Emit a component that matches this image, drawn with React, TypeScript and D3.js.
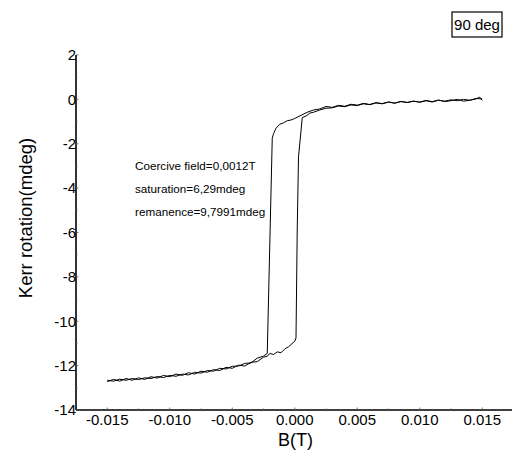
import React from "react";
import * as d3 from "d3";

// Descending branch (field swept from +0.015 T to -0.015 T): [B (T), Kerr rotation (mdeg)]
const descB = [
  0.015, 0.0148, 0.0145, 0.014, 0.0135, 0.013, 0.0125, 0.012, 0.0115, 0.011, 0.0105, 0.01,
  0.0095, 0.009, 0.0085, 0.008, 0.0075, 0.007, 0.0065, 0.006, 0.0055, 0.005, 0.0045, 0.004,
  0.0035, 0.003, 0.0025, 0.002, 0.0015, 0.001, 0.0005, 0.0, -0.0003, -0.0006, -0.0009, -0.0012,
  -0.0015, -0.0017, -0.0018, -0.0022, -0.0025, -0.003, -0.0035, -0.004, -0.0045, -0.005,
  -0.0055, -0.006, -0.0065, -0.007, -0.0075, -0.008, -0.0085, -0.009, -0.0095, -0.01,
  -0.0105, -0.011, -0.0115, -0.012, -0.0125, -0.013, -0.0135, -0.014, -0.0145, -0.015,
];
const descKerr = [
  -0.05, 0.1, 0.02, -0.04, -0.08, 0.0, -0.06, -0.1, -0.03, -0.12, -0.06, -0.13,
  -0.08, -0.14, -0.1, -0.17, -0.12, -0.19, -0.15, -0.23, -0.18, -0.26, -0.22, -0.31,
  -0.27, -0.36, -0.32, -0.43, -0.48, -0.58, -0.72, -0.86, -0.93, -0.96, -1.06, -1.12,
  -1.3, -1.55, -1.75, -11.45, -11.57, -11.66, -11.88, -11.9, -12.02, -12.03,
  -12.15, -12.12, -12.25, -12.22, -12.34, -12.3, -12.42, -12.38, -12.48, -12.44,
  -12.54, -12.49, -12.58, -12.55, -12.63, -12.58, -12.66, -12.61, -12.7, -12.66,
];

// Ascending branch (field swept from -0.015 T back to +0.015 T)
const ascB = [
  -0.015, -0.0145, -0.014, -0.0135, -0.013, -0.0125, -0.012, -0.0115, -0.011, -0.0105, -0.01,
  -0.0095, -0.009, -0.0085, -0.008, -0.0075, -0.007, -0.0065, -0.006, -0.0055, -0.005,
  -0.0045, -0.004, -0.0035, -0.003, -0.0025, -0.0022, -0.002, -0.0017, -0.0014, -0.0011,
  -0.0008, -0.0005, -0.0003, 0.0, 0.0001, 0.0002, 0.0003, 0.0006, 0.0009, 0.0012, 0.0015,
  0.002, 0.0025, 0.003, 0.0035, 0.004, 0.0045, 0.005, 0.0055, 0.006, 0.0065, 0.007, 0.0075,
  0.008, 0.0085, 0.009, 0.0095, 0.01, 0.0105, 0.011, 0.0115, 0.012, 0.0125, 0.013, 0.0135,
  0.014, 0.0145, 0.015,
];
const ascKerr = [
  -12.72, -12.62, -12.7, -12.58, -12.66, -12.55, -12.62, -12.5, -12.56, -12.44, -12.5,
  -12.38, -12.44, -12.32, -12.38, -12.25, -12.3, -12.18, -12.22, -12.08, -12.12,
  -11.98, -12.02, -11.85, -11.82, -11.62, -11.58, -11.45, -11.5, -11.38, -11.42,
  -11.25, -11.15, -11.05, -10.9, -10.75, -5.8, -2.6, -0.82, -0.75, -0.62, -0.58,
  -0.48, -0.4, -0.38, -0.3, -0.33, -0.25, -0.28, -0.2, -0.24, -0.16, -0.2, -0.12,
  -0.17, -0.09, -0.14, -0.08, -0.12, -0.05, -0.1, -0.04, -0.08, -0.02, -0.06, 0.0,
  -0.04, 0.04, 0.02,
];

const xTicks = [-0.015, -0.01, -0.005, 0, 0.005, 0.01, 0.015];
const xMinor = [-0.0125, -0.0075, -0.0025, 0.0025, 0.0075, 0.0125];
const yTicks = [2, 0, -2, -4, -6, -8, -10, -12, -14];
const yMinor = [1, -1, -3, -5, -7, -9, -11, -13];
const annotations = ["Coercive field=0,0012T", "saturation=6,29mdeg", "remanence=9,7991mdeg"];
const angleLabel = "90 deg";

const W = 512;
const H = 450;
const left = 76;
const right = 513.5;
const top = 55;
const bottom = 410;
const FONT = "'Liberation Sans', Arial, sans-serif";

export default function App() {
  const x = d3.scaleLinear().domain([-0.0175, 0.0175]).range([left, right]);
  const y = d3.scaleLinear().domain([-14, 2]).range([bottom, top]);
  const line = d3
    .line<[number, number]>()
    .x((d) => x(d[0]))
    .y((d) => y(d[1]));
  const desc = descB.map((b, i) => [b, descKerr[i]] as [number, number]);
  const asc = ascB.map((b, i) => [b, ascKerr[i]] as [number, number]);

  const fmtX = (v: number) => (v < 0 ? "-" : "") + Math.abs(v).toFixed(3);

  return (
    <svg
      width={W}
      height={H}
      style={{ position: "absolute", left: 0, top: 0, background: "#fff" }}
      fontFamily={FONT}
    >
      <rect x={0} y={0} width={W} height={H} fill="#fff" />
      {/* data */}
      <path d={line(desc) || ""} fill="none" stroke="#000" strokeWidth={1} />
      <path d={line(asc) || ""} fill="none" stroke="#000" strokeWidth={1} />

      {/* axes */}
      <line x1={left} x2={left} y1={top} y2={bottom} stroke="#000" strokeWidth={1.6} />
      <line x1={left} x2={W} y1={bottom} y2={bottom} stroke="#000" strokeWidth={1.6} />
      {yTicks.map((t) => (
        <g key={"yt" + t}>
          <line x1={left} x2={left + 2.5} y1={y(t)} y2={y(t)} stroke="#555" strokeWidth={0.8} />
          <text x={left} y={y(t)} dy="0.35em" textAnchor="end" fontSize={15} fill="#000">
            {t}
          </text>
        </g>
      ))}
      {yMinor.map((t) => (
        <line key={"ym" + t} x1={left} x2={left + 1.8} y1={y(t)} y2={y(t)} stroke="#777" strokeWidth={0.7} />
      ))}
      {xTicks.map((t) => (
        <g key={"xt" + t}>
          <line x1={x(t)} x2={x(t)} y1={bottom} y2={bottom - 2.5} stroke="#555" strokeWidth={0.8} />
          <text x={x(t)} y={bottom + 15} textAnchor="middle" fontSize={15} fill="#000">
            {fmtX(t)}
          </text>
        </g>
      ))}
      {xMinor.map((t) => (
        <line key={"xm" + t} x1={x(t)} x2={x(t)} y1={bottom} y2={bottom - 1.8} stroke="#777" strokeWidth={0.7} />
      ))}

      {/* axis titles */}
      <text x={295.5} y={446} textAnchor="middle" fontSize={18} fill="#000">
        B(T)
      </text>
      <text
        transform={`translate(32,218) rotate(-90)`}
        textAnchor="middle"
        fontSize={18.5}
        fill="#000"
      >
        Kerr rotation(mdeg)
      </text>

      {/* annotations */}
      {annotations.map((a, i) => (
        <text key={a} x={135} y={170 + i * 23} fontSize={11.7} fill="#000">
          {a}
        </text>
      ))}

      {/* angle label box */}
      <rect x={452} y={12} width={50} height={25} fill="#fff" stroke="#000" strokeWidth={1.2} />
      <text x={477} y={30} textAnchor="middle" fontSize={15} fill="#000">
        {angleLabel}
      </text>
    </svg>
  );
}
